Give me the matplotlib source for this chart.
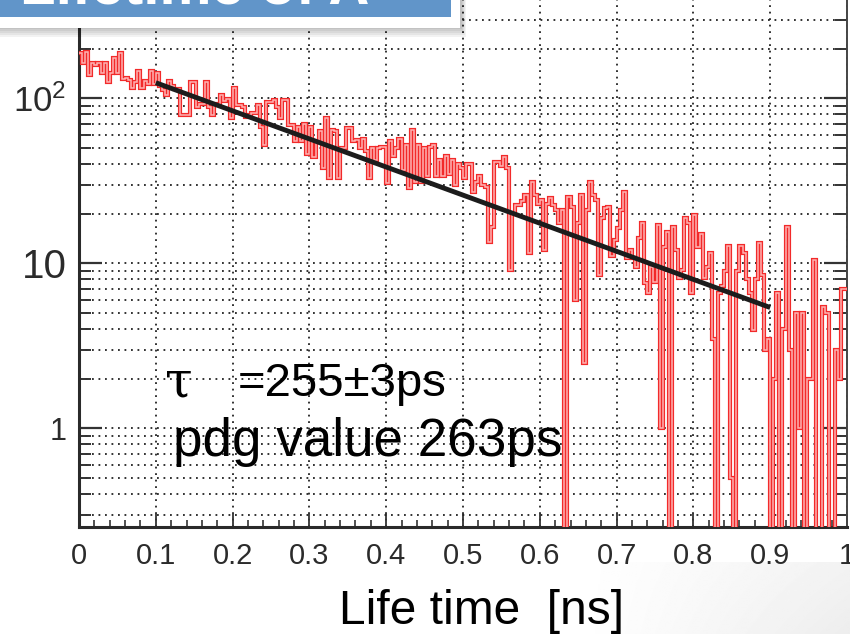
import numpy as np
import matplotlib
matplotlib.use("Agg")
import matplotlib.pyplot as plt
from matplotlib import patheffects as pe
from matplotlib.patches import Rectangle
from matplotlib.ticker import FixedLocator, NullFormatter, FixedFormatter

# ---- data -------------------------------------------------------------
# decay-time histogram, 250 bins of 4 ps between 0 and 1 ns
counts_0_100 = [187, 163, 191, 139, 163, 159, 163, 142, 163, 125,
                142, 175, 142, 187, 131, 133, 129, 115, 125, 146,
                115, 128, 122, 146, 122]
counts_100_200 = [142, 119, 112, 104, 128, 119, 114, 114, 79, 79,
                  79, 125, 125, 89, 93, 93, 125, 89, 79, 93,
                  93, 104, 96, 99, 76]
counts_200_252 = [115, 91, 91, 89, 77, 79, 81, 81, 91, 67, 52, 95, 95]
counts_252_504 = [97, 89, 76, 98, 98, 69, 69, 55, 67, 55,
                  70, 46, 67, 44, 55, 63, 38, 76, 33, 64,
                  63, 33, 50, 50, 66, 66, 55, 56, 50, 57,
                  48, 33, 50, 42, 50, 51, 51, 30.5, 55, 45,
                  50, 57, 37, 52, 28.5, 64, 31, 52, 31, 50,
                  34, 51, 52, 34, 42, 34, 45, 35, 42, 30,
                  40, 38, 33]
counts_504_760 = [40, 40, 27, 31, 34, 30, 29, 13.5, 16.7, 41,
                  41, 39, 44, 37.6, 9.1, 20, 22.5, 22.5, 24, 26,
                  11.5, 31, 26, 23, 24.2, 12, 23, 24.8, 22.5, 21,
                  17.5, 21, 0, 25.3, 22, 6.0, 17.5, 26, 2.5, 21,
                  31, 26, 24.2, 8.5, 18.7, 21.5, 22, 11, 13.8, 16.3,
                  21, 27, 10.7, 12, 10.7, 9.5, 14.2, 17.5, 7.6, 6.6,
                  9.5, 7.7, 17, 1.0]
counts_760_1000 = [12.6, 15.4, 0, 16.7, 12, 8.1, 9.1, 18.8, 17.5, 6.6,
                   19.5, 12.6, 15, 8.1, 9.5, 11.5, 3.5, 0, 6.6, 7.3,
                   9, 12.8, 0.5, 0, 9, 12.8, 11.5, 8, 6.6, 3.95,
                   8, 13.3, 8.5, 3.0, 3.5, 0, 2.0, 6.6, 0, 4,
                   16.7, 3, 0, 5, 1, 5, 0, 2, 2, 10.5,
                   0, 0, 5.4, 5, 0, 0, 3, 2, 7, 7]

t_min, t_max = 0.0, 1.0

# exponential fit result
fit_range = (0.1, 0.9)
fit_tau = 0.255          # ns
fit_norm = 184.0         # counts at t = 0

x_ticks = [0, 0.1, 0.2, 0.3, 0.4, 0.5, 0.6, 0.7, 0.8, 0.9, 1.0]
x_tick_labels = ["0", "0.1", "0.2", "0.3", "0.4", "0.5", "0.6", "0.7", "0.8", "0.9", "1"]
y_ticks = [1, 10, 100]
y_tick_labels = ["1", "10", "$\\mathregular{10^{2}}$"]
y_tick_sizes = [22, 29, 25]

title_text = "Lifetime of Λ"
tau_symbol = "τ"
tau_text = "=255±3ps"
pdg_text = "pdg value 263ps"
x_label = "Life time  [ns]"

# ---- figure -----------------------------------------------------------
W, H = 850, 634
fig = plt.figure(figsize=(W / 100, H / 100), dpi=100)
fig.patch.set_facecolor("white")

def fx(px):
    return px / W

def fy(py):
    return 1 - py / H

# faint slide background in the lower right corner
grad_ax = fig.add_axes([fx(580), 0, fx(W - 580), fy(562)], zorder=-5)
gx = np.linspace(0, 1, 256)
gy = np.linspace(0, 1, 64)
G = np.clip(np.outer(1 - 0.3 * gy, gx), 0, 1)
grad_ax.imshow(1 - 0.07 * G, cmap="gray", vmin=0, vmax=1, aspect="auto",
               extent=[0, 1, 0, 1], origin="lower")
grad_ax.set_axis_off()

left_px, right_px = 79, 847
bottom_px, top_px = 527, -12
ax = fig.add_axes([fx(left_px), fy(bottom_px), fx(right_px - left_px),
                   (bottom_px - top_px) / H])
ax.set_facecolor("white")

decade_px = 165.0
one_px = 428.3
y_lo = 10 ** (-(bottom_px - one_px) / decade_px)
y_hi = 10 ** ((one_px - top_px) / decade_px)

counts = np.array(counts_0_100 + counts_100_200 + counts_200_252 +
                  counts_252_504 + counts_504_760 + counts_760_1000, dtype=float)
edges = np.linspace(t_min, t_max, len(counts) + 1)
draw_counts = np.where(counts > 0, counts, 1e-4)

ax.set_yscale("log")
ax.set_xlim(t_min, t_max)
ax.set_ylim(y_lo, y_hi)

# grid
dot = (0, (1.0, 2.6))
ax.xaxis.set_major_locator(FixedLocator(x_ticks))
ax.xaxis.set_minor_locator(FixedLocator(np.round(np.arange(0, 1.0001, 0.02), 3)))
ax.xaxis.set_major_formatter(FixedFormatter(x_tick_labels))
ax.yaxis.set_major_locator(FixedLocator(y_ticks))
minor_y = [m * 10.0 ** e for e in (-1, 0, 1, 2) for m in range(2, 10)]
ax.yaxis.set_minor_locator(FixedLocator(minor_y))
ax.yaxis.set_major_formatter(FixedFormatter(y_tick_labels))
ax.yaxis.set_minor_formatter(NullFormatter())

ax.grid(True, which="major", axis="x", color="#222222", lw=1.3, ls=dot)
ax.grid(True, which="both", axis="y", color="#222222", lw=1.3, ls=dot)
ax.set_axisbelow(True)

# histogram outline
ax.stairs(draw_counts, edges, baseline=None, color="#ffb3b3", lw=1.1,
          zorder=3,
          path_effects=[pe.Stroke(linewidth=3.0, foreground="#f22a2a"), pe.Normal()])

# fit curve
t_fit = np.linspace(fit_range[0], fit_range[1], 300)
ax.plot(t_fit, fit_norm * np.exp(-t_fit / fit_tau), color="#1c1c1c", lw=3.5,
        solid_capstyle="butt", zorder=4)

# spines and ticks
for side in ("left", "bottom"):
    ax.spines[side].set_linewidth(2.2)
    ax.spines[side].set_color("#2a2a2a")
ax.spines["right"].set_linewidth(1.4)
ax.spines["right"].set_color("#444444")
ax.spines["top"].set_visible(False)

ax.tick_params(axis="x", which="major", direction="in", length=9.5, width=1.3,
               color="#333333", pad=11, labelsize=21, labelcolor="#2b2b2b",
               top=False)
ax.tick_params(axis="x", which="minor", direction="in", length=5, width=1.2,
               color="#333333", top=False)
ax.tick_params(axis="y", which="major", direction="in", length=16.5, width=1.6,
               color="#333333", pad=9, labelcolor="#2b2b2b", right=True)
ax.tick_params(axis="y", which="minor", direction="in", length=8.5, width=1.4,
               color="#333333", right=True)
for lab in ax.get_xticklabels():
    lab.set_family("Liberation Sans")
for lab, size in zip(ax.get_yticklabels(), y_tick_sizes):
    lab.set_family("Liberation Sans")
    lab.set_fontsize(size)

# annotations
fig.text(fx(165), fy(396), tau_symbol, family="DejaVu Serif", size=36,
         color="black", va="baseline", ha="left")
fig.text(fx(238), fy(396), tau_text, family="Liberation Sans", size=34,
         color="black", va="baseline", ha="left")
fig.text(fx(173), fy(456), pdg_text, family="Liberation Sans", size=38.2,
         color="black", va="baseline", ha="left")
fig.text(fx(482), fy(624), x_label, family="Liberation Sans", size=34.5,
         color="black", va="baseline", ha="center")

# title box at the top left, mostly outside the page
for k in range(5):
    fig.patches.append(Rectangle((0, fy(29 + 2 * k)), fx(462 + k), 1,
                                 transform=fig.transFigure, facecolor="black",
                                 alpha=0.05, edgecolor="none", zorder=8))
fig.patches.append(Rectangle((0, fy(28)), fx(460), 1, transform=fig.transFigure,
                             facecolor="white", edgecolor="none", zorder=9))
fig.patches.append(Rectangle((0, fy(17)), fx(451), 1, transform=fig.transFigure,
                             facecolor="#6195c9", edgecolor="none", zorder=10))
fig.text(fx(20), fy(4), title_text, family="Liberation Sans", weight="bold",
         size=42, color="white", va="baseline", ha="left", zorder=11)

fig.savefig("out.png", dpi=100)
